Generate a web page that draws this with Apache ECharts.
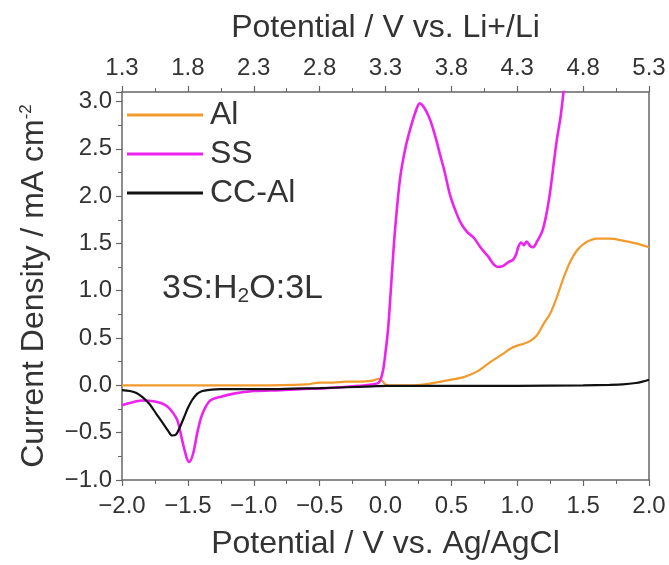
<!DOCTYPE html>
<html>
<head>
<meta charset="utf-8">
<script src="https://cdn.jsdelivr.net/npm/echarts@6/dist/echarts.min.js"></script>
<style>html,body{margin:0;padding:0;background:#fff}#c{width:669px;height:565px}</style>
</head>
<body>
<div id="c"></div>
<script>
// ---- data ----
const seriesNames = ['Al', 'SS', 'CC-Al'];
const alX = [-2.0, -1.5, -1.0, -0.6, -0.5, -0.4, -0.3, -0.2, -0.1, -0.05, -0.02, 0.0, 0.05, 0.1, 0.2, 0.3, 0.4, 0.5, 0.6, 0.7, 0.8, 0.9, 0.95, 1.0, 1.05, 1.1, 1.15, 1.2, 1.25, 1.3, 1.35, 1.4, 1.45, 1.5, 1.55, 1.6, 1.65, 1.7, 1.8, 1.9, 2.0];
const alY = [0.0, 0.0, 0.0, 0.01, 0.03, 0.03, 0.04, 0.04, 0.05, 0.07, 0.04, 0.01, 0.0, 0.0, 0.0, 0.01, 0.035, 0.06, 0.09, 0.15, 0.25, 0.34, 0.39, 0.42, 0.44, 0.47, 0.53, 0.65, 0.76, 0.93, 1.13, 1.3, 1.42, 1.49, 1.53, 1.55, 1.55, 1.55, 1.53, 1.5, 1.46];
const ssX = [-2.0, -1.95, -1.85, -1.75, -1.68, -1.63, -1.58, -1.54, -1.51, -1.49, -1.46, -1.43, -1.4, -1.37, -1.33, -1.25, -1.16, -1.0, -0.8, -0.65, -0.45, -0.25, -0.1, -0.05, -0.02, 0.0, 0.02, 0.04, 0.07, 0.11, 0.15, 0.19, 0.23, 0.26, 0.3, 0.34, 0.38, 0.41, 0.45, 0.49, 0.53, 0.57, 0.62, 0.67, 0.72, 0.78, 0.82, 0.85, 0.89, 0.93, 0.97, 0.99, 1.01, 1.03, 1.05, 1.07, 1.1, 1.12, 1.15, 1.19, 1.22, 1.25, 1.28, 1.3, 1.33, 1.35, 1.38];
const ssY = [-0.21, -0.19, -0.16, -0.17, -0.2, -0.26, -0.37, -0.6, -0.76, -0.81, -0.72, -0.51, -0.34, -0.24, -0.16, -0.12, -0.09, -0.06, -0.05, -0.04, -0.03, -0.01, 0.01, 0.03, 0.15, 0.35, 0.6, 1.0, 1.6, 2.18, 2.5, 2.72, 2.9, 2.98, 2.92, 2.8, 2.62, 2.46, 2.25, 2.01, 1.85, 1.72, 1.62, 1.56, 1.46, 1.36, 1.28, 1.25, 1.26, 1.30, 1.33, 1.38, 1.47, 1.51, 1.48, 1.52, 1.47, 1.46, 1.52, 1.63, 1.8, 2.05, 2.38, 2.59, 2.85, 3.09, 3.5];
const ccX = [-2.0, -1.94, -1.89, -1.84, -1.79, -1.74, -1.69, -1.65, -1.62, -1.59, -1.56, -1.53, -1.5, -1.47, -1.43, -1.39, -1.35, -1.25, -1.1, -0.9, -0.7, -0.5, -0.3, -0.1, 0.0, 0.2, 0.5, 1.0, 1.5, 1.7, 1.8, 1.9, 1.95, 2.0];
const ccY = [-0.05, -0.06, -0.08, -0.13, -0.2, -0.3, -0.4, -0.48, -0.53, -0.52, -0.44, -0.34, -0.24, -0.16, -0.09, -0.06, -0.05, -0.04, -0.04, -0.04, -0.035, -0.03, -0.02, -0.01, -0.005, -0.005, -0.005, -0.005, 0.0, 0.005, 0.01, 0.025, 0.04, 0.06];
const liOffset = 3.3; // Li+/Li scale = Ag/AgCl + 3.3
const xTitle = 'Potential / V vs. Ag/AgCl';
const topTitle = 'Potential / V vs. Li+/Li';
const yTitle = 'Current Density / mA cm{sup|-2}';

// ---- chart ----
const FONT = '"Liberation Sans", Arial, sans-serif';
const AX = '#666';
const TX = '#333';
const pairs = (xs, ys) => xs.map((x, i) => [x, ys[i]]);
const minus = v => String(v).replace('-', '\u2212');
const chart = echarts.init(document.getElementById('c'), null, {renderer: 'canvas'});
const commonAxis = {
  axisLine: {show: true, onZero: false, lineStyle: {color: AX, width: 1.5}},
  splitLine: {show: false},
  axisTick: {show: true, inside: false, length: 6, lineStyle: {color: AX, width: 1.2}},
  minorTick: {show: true, splitNumber: 2, length: 4, lineStyle: {color: AX, width: 1}}
};
chart.setOption({
  animation: false,
  backgroundColor: '#fff',
  textStyle: {fontFamily: FONT},
  grid: {left: 122, right: 20, top: 92, bottom: 78, containLabel: false},
  legend: {
    orient: 'vertical', left: 122, top: 94, itemGap: 7,
    itemWidth: 76, itemHeight: 3, icon: 'rect',
    textStyle: {fontFamily: FONT, fontSize: 32, color: TX, padding: [0, 0, 0, 2]},
    data: seriesNames
  },
  xAxis: [
    Object.assign({}, commonAxis, {
      type: 'value', position: 'bottom', min: -2, max: 2, interval: 0.5,
      name: xTitle, nameLocation: 'middle', nameGap: 48,
      nameTextStyle: {fontFamily: FONT, fontSize: 32, color: TX},
      axisLabel: {fontFamily: FONT, fontSize: 24, color: TX, margin: 14,
        formatter: v => minus(v.toFixed(1))}
    }),
    Object.assign({}, commonAxis, {
      type: 'value', position: 'top', min: -2, max: 2, interval: 0.5,
      name: topTitle, nameLocation: 'middle', nameGap: 48,
      nameTextStyle: {fontFamily: FONT, fontSize: 32, color: TX},
      axisLabel: {fontFamily: FONT, fontSize: 24, color: TX, margin: 12,
        formatter: v => (v + liOffset).toFixed(1)}
    })
  ],
  yAxis: [
    Object.assign({}, commonAxis, {
      type: 'value', position: 'left', min: -1, max: 3.1, interval: 0.5,
      name: yTitle, nameLocation: 'middle', nameGap: 72,
      nameTextStyle: {fontFamily: FONT, fontSize: 32, color: TX,
        rich: {sup: {fontFamily: FONT, fontSize: 17, color: TX, verticalAlign: 'top', padding: [0, 0, 15, 0]}}},
      axisLabel: {fontFamily: FONT, fontSize: 24, color: TX, margin: 10, showMaxLabel: false,
        formatter: v => (Math.abs(v * 2 - Math.round(v * 2)) < 1e-6 ? minus(v.toFixed(1)) : '')}
    }),
    {
      type: 'value', position: 'right', min: -1, max: 3.1,
      axisLine: {show: true, onZero: false, lineStyle: {color: AX, width: 1.5}},
      axisTick: {show: false}, axisLabel: {show: false}, splitLine: {show: false}
    }
  ],
  series: [
    {name: 'Al', type: 'line', xAxisIndex: 0, yAxisIndex: 0, data: pairs(alX, alY),
      showSymbol: false, smooth: 0.3, clip: true, color: '#f39a2c', lineStyle: {width: 2.2, color: '#f39a2c'}},
    {name: 'SS', type: 'line', xAxisIndex: 0, yAxisIndex: 0, data: pairs(ssX, ssY),
      showSymbol: false, smooth: 0.3, clip: true, color: '#ee22ee', lineStyle: {width: 2.6, color: '#ee22ee'}},
    {name: 'CC-Al', type: 'line', xAxisIndex: 0, yAxisIndex: 0, data: pairs(ccX, ccY),
      showSymbol: false, smooth: 0.3, clip: true, color: '#111', lineStyle: {width: 2.2, color: '#111'}}
  ],
  graphic: [{
    type: 'text', left: 162, top: 272,
    style: {
      text: '3S:H{sub|2}O:3L',
      fontFamily: FONT, fontSize: 34, fill: TX,
      rich: {sub: {fontFamily: FONT, fontSize: 21, fill: TX, verticalAlign: 'bottom', padding: [14, 0, 0, 0]}}
    }
  }]
});
</script>
</body>
</html>
